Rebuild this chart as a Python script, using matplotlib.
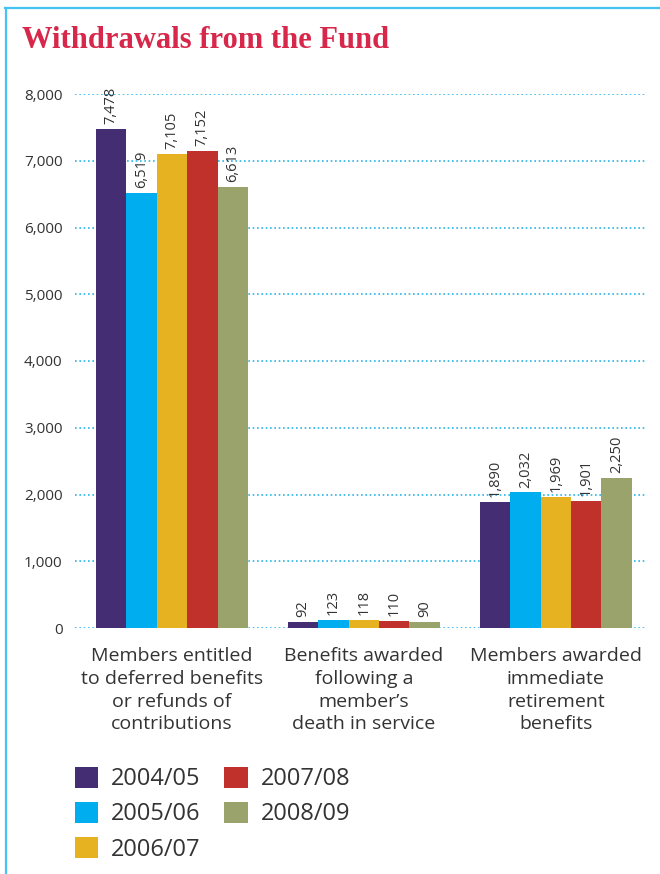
import numpy as np
import matplotlib
matplotlib.use('Agg')
import matplotlib.pyplot as plt
from matplotlib.lines import Line2D
from matplotlib.patches import Patch

plt.rcParams['font.family'] = ['Open Sans', 'DejaVu Sans']
plt.rcParams['text.color'] = '#333333'

# =============================================================================
# 데이터
# =============================================================================
categories = ['Members entitled\nto deferred benefits\nor refunds of\ncontributions',
              'Benefits awarded\nfollowing a\nmember\u2019s\ndeath in service',
              'Members awarded\nimmediate\nretirement\nbenefits']
years = ['2004/05', '2005/06', '2006/07', '2007/08', '2008/09']
v_0405 = [7478, 92, 1890]
v_0506 = [6519, 123, 2032]
v_0607 = [7105, 118, 1969]
v_0708 = [7152, 110, 1901]
v_0809 = [6613, 90, 2250]
series = [v_0405, v_0506, v_0607, v_0708, v_0809]
colors = ['#452d74', '#00aeef', '#e6b222', '#c0312b', '#99a36b']
yticks = [0, 1000, 2000, 3000, 4000, 5000, 6000, 7000, 8000]

fig = plt.figure(figsize=(6.6, 8.74), dpi=100)
ax = fig.add_axes([75/660, 1-628/874, 572/660, 534/874])

group_step = 6.316
centers = np.arange(len(categories)) * group_step
bw = 1.0

for i, (vals, col) in enumerate(zip(series, colors)):
    xs = centers + (i - 2) * bw
    ax.bar(xs, vals, width=bw, color=col, zorder=3, label=years[i])
    for x, v in zip(xs, vals):
        ax.annotate(f'{v:,}', (x, v), xytext=(0, 3.5), textcoords='offset points',
                    rotation=90, ha='center', va='bottom', fontsize=10.5,
                    color='#333333', annotation_clip=False)

ax.set_xlim(-3.19, centers[-1] + 2.5 + 0.5)
ax.set_ylim(0, 8000)
ax.set_yticks(yticks)
ax.set_yticklabels([f'{t:,}' for t in yticks], fontsize=11, color='#333333')
ax.set_xticks(centers)
ax.set_xticklabels(categories, fontsize=14, color='#333333', linespacing=1.33)
ax.tick_params(axis='both', length=0)
ax.tick_params(axis='y', pad=9)
ax.tick_params(axis='x', pad=14)
ax.yaxis.grid(True, color='#29b6ea', linestyle=(0, (1, 1.6)), linewidth=1.2, zorder=1)
for s in ax.spines.values():
    s.set_visible(False)

# 제목
fig.text(22/660, 1-48/874, 'Withdrawals from the Fund', family='Liberation Serif',
         fontweight='bold', fontsize=22, color='#d7284b', va='baseline', ha='left')

# 테두리 (위, 왼쪽)
fig.add_artist(Line2D([5/660, 1], [1-8/874, 1-8/874], color='#45c3f2', lw=1.6,
                      transform=fig.transFigure))
fig.add_artist(Line2D([5.5/660, 5.5/660], [1-8/874, 0], color='#45c3f2', lw=1.6,
                      transform=fig.transFigure))

handles = [Patch(facecolor=c, label=y) for c, y in zip(colors, years)]
fig.legend(handles=handles, ncol=2, loc='upper left', bbox_to_anchor=(58/660, 1-750/874),
           frameon=False, fontsize=17, handlelength=1.0, handleheight=1.0,
           handletextpad=0.55, columnspacing=1.0, labelspacing=0.45, borderpad=0.2)

plt.savefig('out.png', dpi=100)
